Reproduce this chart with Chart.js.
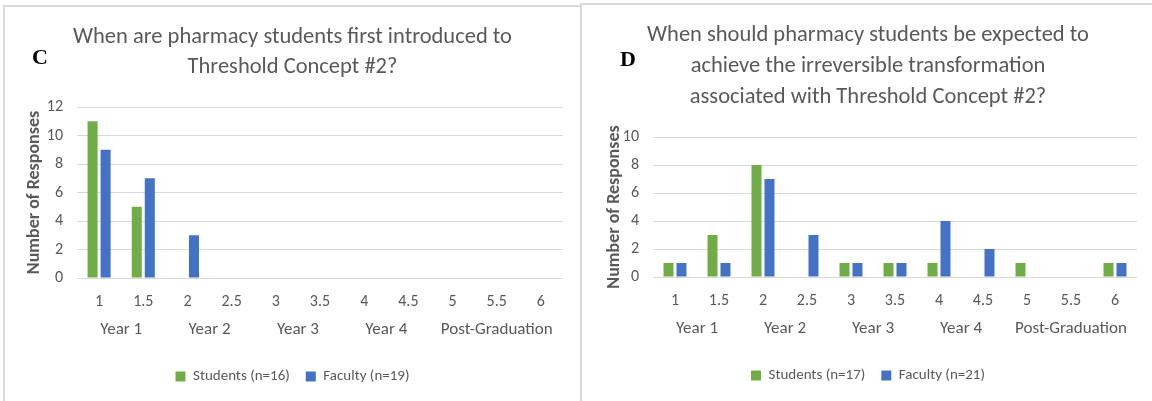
<!DOCTYPE html>
<html>
<head>
<meta charset="utf-8">
<script src="https://cdn.jsdelivr.net/npm/chart.js@4.4.1/dist/chart.umd.min.js"></script>
<style>
  html, body { margin: 0; padding: 0; background: #fff; overflow: hidden; }
  body { width: 1152px; height: 401px; position: relative; }
  .panel { position: absolute; border-left: 2px solid #d9d9d9; border-top: 2px solid #d9d9d9; height: 420px; }
  #panelC { left: 3px; top: 5px; width: 575px; }
  #panelD { left: 580px; top: 3px; width: 572px; }
  .panel canvas { position: absolute; left: 0; top: 0; }
  .tag { position: absolute; font: bold 22px "Liberation Serif", "Times New Roman", serif; line-height: 22px; color: #000; z-index: 2; }
</style>
</head>
<body>
<div class="panel" id="panelC">
  <div class="tag" style="left:27px; top:39px;">C</div>
  <canvas id="chartC" width="575" height="396"></canvas>
</div>
<div class="panel" id="panelD">
  <div class="tag" style="left:38px; top:43px;">D</div>
  <canvas id="chartD" width="572" height="396"></canvas>
</div>
<script>
// x categories (half-year steps) and the year groups printed under them
const yearTicks = ["1", "1.5", "2", "2.5", "3", "3.5", "4", "4.5", "5", "5.5", "6"];
const yearGroups = ["Year 1", "Year 2", "Year 3", "Year 4", "Post-Graduation"];
const groupFirst = [0, 2, 4, 6, 8];
const groupLast = [1, 3, 5, 7, 10];

// C: first introduced
const introStudents = [11, 5, 0, 0, 0, 0, 0, 0, 0, 0, 0];
const introFaculty = [9, 7, 3, 0, 0, 0, 0, 0, 0, 0, 0];

// D: expected to achieve the transformation
const achieveStudents = [1, 3, 8, 0, 1, 1, 1, 0, 1, 0, 1];
const achieveFaculty = [1, 1, 7, 3, 1, 1, 4, 2, 0, 0, 1];

const GREEN = "#70ad47";
const BLUE = "#4472c4";
const GREY_TEXT = "#595959";
const GRID = "#d9d9d9";

Chart.defaults.font.family = "Carlito, Calibri, Lato, sans-serif";
Chart.defaults.color = GREY_TEXT;

function makeChart(id, cfg) {
  const groupCenters = groupFirst.map((f, i) => (f + groupLast[i]) / 2);
  return new Chart(document.getElementById(id), {
    type: "bar",
    data: {
      labels: yearTicks,
      datasets: [
        { label: cfg.studentLabel, data: cfg.students, backgroundColor: GREEN },
        { label: cfg.facultyLabel, data: cfg.faculty, backgroundColor: BLUE }
      ]
    },
    options: {
      responsive: false,
      animation: false,
      layout: { padding: { left: 0, right: 0, top: 0, bottom: cfg.bottomPad } },
      datasets: { bar: { categoryPercentage: 0.59, barPercentage: 0.77, borderWidth: 0 } },
      plugins: {
        tooltip: { enabled: false },
        title: {
          display: true,
          text: cfg.title,
          color: GREY_TEXT,
          font: { size: 22.5, weight: "normal", lineHeight: cfg.titleLine },
          padding: { top: 15, bottom: cfg.titleGap }
        },
        legend: {
          position: "bottom",
          labels: {
            boxWidth: 10,
            boxHeight: 10,
            padding: 16,
            color: GREY_TEXT,
            font: { size: 15 }
          }
        }
      },
      scales: {
        y: {
          min: 0,
          max: cfg.yMax,
          afterFit: (s) => { s.width = cfg.yWidth; },
          ticks: { stepSize: 2, padding: 14, color: GREY_TEXT, font: { size: 16 } },
          grid: { color: GRID, drawTicks: false },
          border: { display: false },
          title: {
            display: true,
            text: "Number of Responses",
            color: GREY_TEXT,
            font: { size: 18, weight: "bold" },
            padding: { top: cfg.yTitlePad, bottom: 0 }
          }
        },
        // empty right-hand strip, keeps the plot off the right border
        spacer: {
          type: "linear",
          position: "right",
          afterFit: (s) => { s.width = 17; },
          ticks: { display: false },
          grid: { display: false, drawTicks: false },
          border: { display: false }
        },
        x: {
          weight: 0,
          afterFit: (s) => { s.height = 30; },
          ticks: { padding: 14, color: GREY_TEXT, font: { size: 16 }, autoSkip: false, maxRotation: 0 },
          grid: { display: false, drawTicks: false },
          border: { display: false }
        },
        years: {
          type: "linear",
          position: "bottom",
          weight: 1,
          offset: false,
          min: -0.5,
          max: yearTicks.length - 0.5,
          afterBuildTicks: (s) => { s.ticks = groupCenters.map((v) => ({ value: v })); },
          afterFit: (s) => { s.height = cfg.yearsHeight; },
          ticks: {
            padding: 12,
            color: GREY_TEXT,
            font: { size: 17 },
            autoSkip: false,
            maxRotation: 0,
            callback: (v, i) => yearGroups[i]
          },
          grid: { display: false, drawTicks: false },
          border: { display: false }
        }
      }
    }
  });
}

makeChart("chartC", {
  title: ["When are pharmacy students first introduced to", "Threshold Concept #2?"],
  titleLine: 30 / 22.5,
  titleGap: 25,
  students: introStudents,
  faculty: introFaculty,
  studentLabel: "Students (n=16)",
  facultyLabel: "Faculty (n=19)",
  yMax: 12,
  yWidth: 72,
  yTitlePad: 19,
  yearsHeight: 45,
  bottomPad: 9
});

makeChart("chartD", {
  title: ["When should pharmacy students be expected to", "achieve the irreversible transformation", "associated with Threshold Concept #2?"],
  titleLine: 31 / 22.5,
  titleGap: 24,
  students: achieveStudents,
  faculty: achieveFaculty,
  studentLabel: "Students (n=17)",
  facultyLabel: "Faculty (n=21)",
  yMax: 10,
  yWidth: 71,
  yTitlePad: 22,
  yearsHeight: 45,
  bottomPad: 8
});
</script>
</body>
</html>
